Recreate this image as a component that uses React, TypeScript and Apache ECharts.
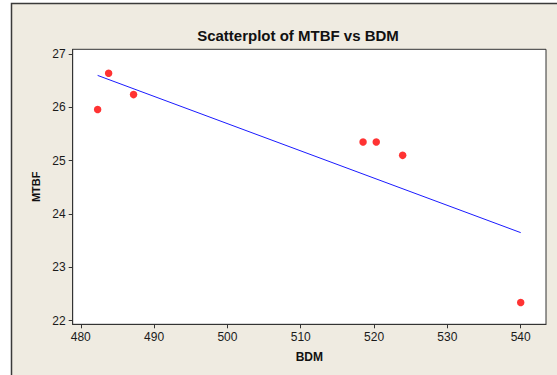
import React, { useEffect, useRef } from "react";
import * as echarts from "echarts";

const bdm = [482.3, 483.8, 487.2, 518.5, 520.3, 523.9, 540.0];
const mtbf = [25.96, 26.64, 26.24, 25.35, 25.35, 25.1, 22.34];
const fitLine = [
  [482.3, 26.6],
  [540.0, 23.65],
];
const xTicks = [480, 490, 500, 510, 520, 530, 540];
const yTicks = [22, 23, 24, 25, 26, 27];

export default function App() {
  const ref = useRef<HTMLDivElement>(null);
  useEffect(() => {
    document.body.style.margin = "0";
    const chart = echarts.init(ref.current!, null, { renderer: "svg" });
    const font = "'Liberation Sans', Arial, sans-serif";
    chart.setOption({
      animation: false,
      backgroundColor: "#ffffff",
      textStyle: { fontFamily: font },
      graphic: [
        {
          type: "rect",
          z: -10,
          silent: true,
          shape: { x: 11.5, y: 3.5, width: 600, height: 400 },
          style: { fill: "#EFEBE1", stroke: "#3a3a3a", lineWidth: 1.5 },
        },
      ],
      title: {
        text: "Scatterplot of MTBF vs BDM",
        left: 293,
        top: 23,
        textAlign: "center",
        textStyle: { fontSize: 15, fontWeight: "bold", color: "#111", fontFamily: font },
      },
      grid: {
        left: 72.7,
        top: 49.3,
        right: 11,
        bottom: 50.7,
        show: true,
        backgroundColor: "#ffffff",
        borderColor: "#333",
        borderWidth: 1,
      },
      xAxis: {
        type: "value",
        min: 478.9,
        max: 543.45,
        name: "BDM",
        nameLocation: "middle",
        nameGap: 27,
        nameTextStyle: { fontSize: 12, fontWeight: "bold", color: "#111", fontFamily: font },
        axisLine: { show: true, lineStyle: { color: "#333", width: 1 } },
        axisTick: { show: true, length: 4, customValues: xTicks, lineStyle: { color: "#333" } },
        axisLabel: { customValues: xTicks, fontSize: 12, color: "#1a1a1a", margin: 7, fontFamily: font },
        splitLine: { show: false },
      },
      yAxis: {
        type: "value",
        min: 21.93,
        max: 27.09,
        name: "MTBF",
        nameLocation: "middle",
        nameGap: 30,
        nameRotate: 90,
        nameTextStyle: { fontSize: 11, fontWeight: "bold", color: "#111", fontFamily: font },
        axisLine: { show: true, lineStyle: { color: "#333", width: 1 } },
        axisTick: { show: true, length: 4, customValues: yTicks, lineStyle: { color: "#333" } },
        axisLabel: { customValues: yTicks, fontSize: 12, color: "#1a1a1a", margin: 7, fontFamily: font },
        splitLine: { show: false },
      },
      series: [
        {
          type: "line",
          data: fitLine,
          symbol: "none",
          lineStyle: { color: "#1a1aff", width: 1 },
          silent: true,
        },
        {
          type: "scatter",
          data: bdm.map((x, i) => [x, mtbf[i]]),
          symbol: "circle",
          symbolSize: 7.5,
          itemStyle: { color: "#ff0000" },
        },
      ],
    });
    return () => chart.dispose();
  }, []);
  return <div ref={ref} style={{ width: 557, height: 375 }} />;
}
